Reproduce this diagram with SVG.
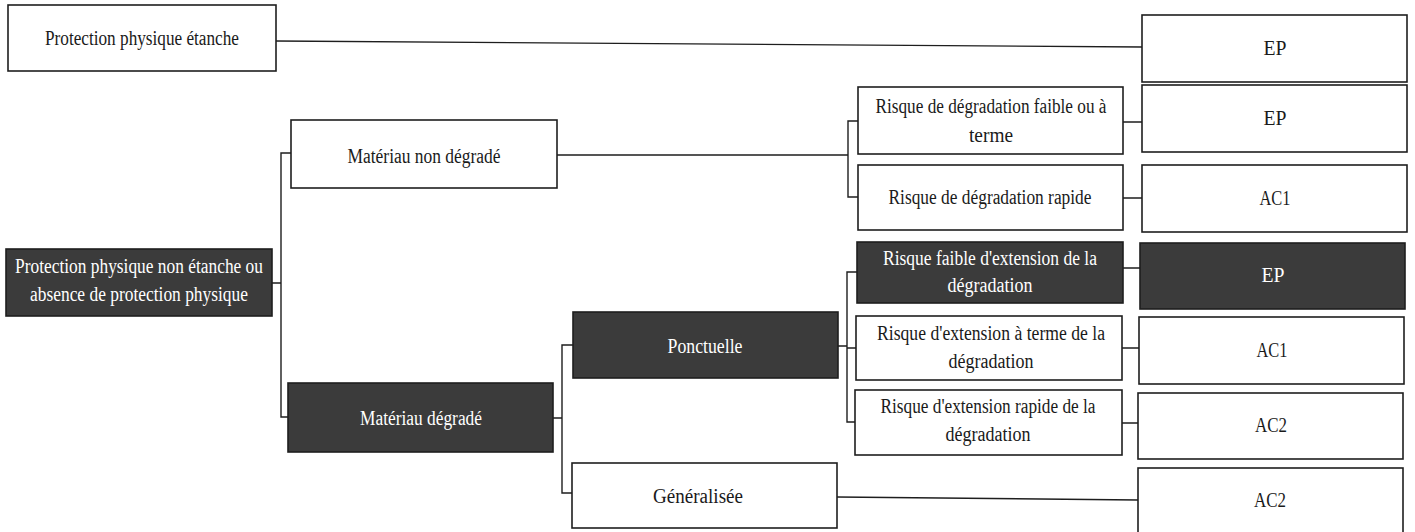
<svg xmlns="http://www.w3.org/2000/svg" width="1415" height="532" viewBox="0 0 1415 532">
<style>
  .box { fill: #ffffff; stroke: #1e1e1e; stroke-width: 1.6; }
  .dark { fill: #3b3b3b; stroke: #1e1e1e; stroke-width: 1.6; }
  .t { font-family: 'Liberation Serif', 'DejaVu Serif', serif; font-size: 20px; fill: #1a1a1a; text-anchor: middle; }
  .w { fill: #ffffff; }
  .conn path { fill: none; stroke: #1e1e1e; stroke-width: 1.4; }
</style>
<rect width="1415" height="532" fill="#ffffff"/>

<g class="conn" id="connectors">
  <path d="M276,41 L1142,47"/>
  <path d="M272,283 H281 M291,153 H281 V417 H288"/>
  <path d="M557,155 H848 M858,121 H848 V197 H858"/>
  <path d="M1123,122 H1142 M1123,198 H1142"/>
  <path d="M553,418 H562 M573,345 H562 V493 H572"/>
  <path d="M838,346 H847 M857,272 H847 V422 H855 M847,348 H856"/>
  <path d="M1123,268 H1140 M1122,348 H1139 M1122,423 H1138"/>
  <path d="M837,497 L1138,500"/>
</g>

<g id="n-etanche">
  <rect class="box" x="8" y="5" width="268" height="66"/>
  <text class="t" x="142" y="45" textLength="194" lengthAdjust="spacingAndGlyphs">Protection physique étanche</text>
</g>
<g id="n-ep0">
  <rect class="box" x="1142" y="15" width="265" height="67"/>
  <text class="t" x="1275" y="55" textLength="23" lengthAdjust="spacingAndGlyphs">EP</text>
</g>

<g id="n-root">
  <rect class="dark" x="6" y="249" width="266" height="67"/>
  <text class="t w" x="139" y="273" textLength="248" lengthAdjust="spacingAndGlyphs">Protection physique non étanche ou</text>
  <text class="t w" x="139" y="301" textLength="218" lengthAdjust="spacingAndGlyphs">absence de protection physique</text>
</g>

<g id="n-non-degrade">
  <rect class="box" x="291" y="120" width="266" height="68"/>
  <text class="t" x="424" y="163" textLength="153" lengthAdjust="spacingAndGlyphs">Matériau non dégradé</text>
</g>

<g id="n-r1">
  <rect class="box" x="858" y="87" width="265" height="67"/>
  <text class="t" x="991" y="113" textLength="231" lengthAdjust="spacingAndGlyphs">Risque de dégradation faible ou à</text>
  <text class="t" x="991" y="142" textLength="44" lengthAdjust="spacingAndGlyphs">terme</text>
</g>
<g id="n-ep1">
  <rect class="box" x="1142" y="85" width="265" height="67"/>
  <text class="t" x="1275" y="125" textLength="23" lengthAdjust="spacingAndGlyphs">EP</text>
</g>

<g id="n-r2">
  <rect class="box" x="858" y="165" width="265" height="65"/>
  <text class="t" x="990" y="204" textLength="203" lengthAdjust="spacingAndGlyphs">Risque de dégradation rapide</text>
</g>
<g id="n-ac1a">
  <rect class="box" x="1142" y="165" width="265" height="67"/>
  <text class="t" x="1275" y="205" textLength="31" lengthAdjust="spacingAndGlyphs">AC1</text>
</g>

<g id="n-r3">
  <rect class="dark" x="857" y="242" width="266" height="61"/>
  <text class="t w" x="990" y="265" textLength="214" lengthAdjust="spacingAndGlyphs">Risque faible d'extension de la</text>
  <text class="t w" x="990" y="292" textLength="85" lengthAdjust="spacingAndGlyphs">dégradation</text>
</g>
<g id="n-ep2">
  <rect class="dark" x="1140" y="243" width="265" height="66"/>
  <text class="t w" x="1273" y="282" textLength="23" lengthAdjust="spacingAndGlyphs">EP</text>
</g>

<g id="n-ponctuelle">
  <rect class="dark" x="573" y="312" width="265" height="66"/>
  <text class="t w" x="705" y="353" textLength="75" lengthAdjust="spacingAndGlyphs">Ponctuelle</text>
</g>

<g id="n-r4">
  <rect class="box" x="856" y="316" width="266" height="64"/>
  <text class="t" x="991" y="340" textLength="228" lengthAdjust="spacingAndGlyphs">Risque d'extension à terme de la</text>
  <text class="t" x="991" y="368" textLength="85" lengthAdjust="spacingAndGlyphs">dégradation</text>
</g>
<g id="n-ac1b">
  <rect class="box" x="1139" y="317" width="265" height="67"/>
  <text class="t" x="1272" y="357" textLength="31" lengthAdjust="spacingAndGlyphs">AC1</text>
</g>

<g id="n-degrade">
  <rect class="dark" x="288" y="383" width="265" height="69"/>
  <text class="t w" x="421" y="425" textLength="122" lengthAdjust="spacingAndGlyphs">Matériau dégradé</text>
</g>

<g id="n-r5">
  <rect class="box" x="855" y="390" width="267" height="65"/>
  <text class="t" x="988" y="413" textLength="215" lengthAdjust="spacingAndGlyphs">Risque d'extension rapide de la</text>
  <text class="t" x="988" y="441" textLength="85" lengthAdjust="spacingAndGlyphs">dégradation</text>
</g>
<g id="n-ac2a">
  <rect class="box" x="1138" y="393" width="265" height="66"/>
  <text class="t" x="1271" y="432" textLength="32" lengthAdjust="spacingAndGlyphs">AC2</text>
</g>

<g id="n-generalisee">
  <rect class="box" x="572" y="463" width="265" height="65"/>
  <text class="t" x="698" y="503" textLength="90" lengthAdjust="spacingAndGlyphs">Généralisée</text>
</g>
<g id="n-ac2b">
  <rect class="box" x="1138" y="468" width="265" height="66"/>
  <text class="t" x="1270" y="507" textLength="32" lengthAdjust="spacingAndGlyphs">AC2</text>
</g>
</svg>
